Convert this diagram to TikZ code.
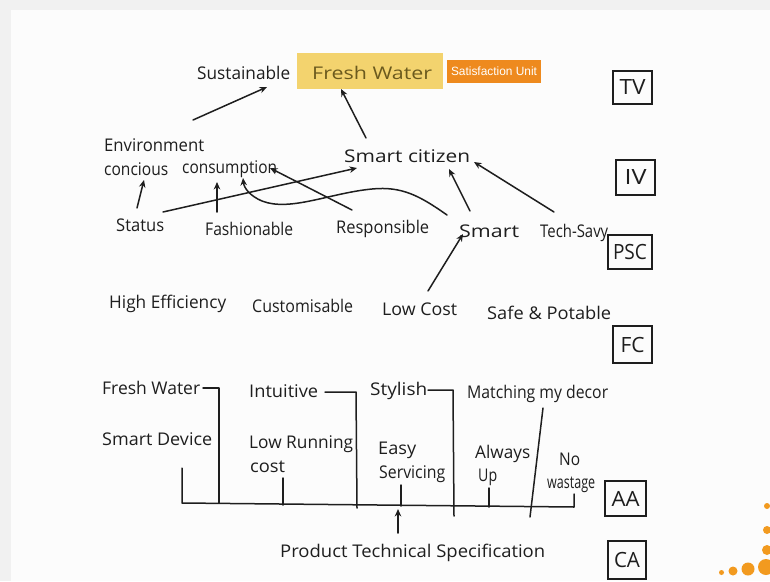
\documentclass[tikz,border=0pt]{standalone}
\usepackage{fontspec}
\setmainfont{Open Sans}
\newfontfamily\labelfont{Liberation Sans}
\usetikzlibrary{arrows.meta,calc}
\definecolor{ink}{HTML}{1E1E1E}
\definecolor{bggray}{HTML}{F1F1F1}
\definecolor{board}{HTML}{FCFCFC}
\definecolor{hilite}{HTML}{F3D36E}
\definecolor{olive}{HTML}{6B5A1E}
\definecolor{orangeunit}{HTML}{EE8A1E}
\definecolor{dotorange}{HTML}{F29A1F}
\newcommand{\hw}[2]{\resizebox{#1pt}{\height}{#2}}
\begin{document}
\begin{tikzpicture}[x=1pt,y=-1pt,
  hand/.style={inner sep=0pt,anchor=west,text=ink,font=\fontsize{17.5}{17.5}\selectfont},
  conn/.style={draw=ink,line width=1.5pt,line cap=round,line join=round},
  arr/.style={conn,-{Stealth[length=7.5pt,width=6.5pt]}},
  lvl/.style={draw=ink,line width=1.5pt,inner sep=0pt,text=ink,font=\fontsize{21}{21}\selectfont}]
\useasboundingbox (0,0) rectangle (770,581);
\fill[bggray] (0,0) rectangle (770,581);
\fill[board] (11,10) rectangle (770,581);

% highlight boxes
\node[fill=hilite,minimum width=146pt,minimum height=36pt,inner sep=0pt] (fw) at (370,71) {};
\node[hand] (fwt) at (312,73) {\color{olive}\hw{120}{Fresh Water}};
\node[fill=orangeunit,minimum width=94pt,minimum height=23pt,inner sep=0pt,text=white,font=\labelfont\fontsize{12}{12}\selectfont] (su) at (494,71) {\hw{86}{Satisfaction Unit}};

% level boxes
\node[lvl,minimum width=39pt,minimum height=33pt] (tv) at (632.5,87.5) {\hw{26}{TV}};
\node[lvl,minimum width=39pt,minimum height=35pt] (iv) at (635.5,177.5) {\hw{22}{IV}};
\node[lvl,minimum width=44pt,minimum height=34pt] (psc) at (630,252) {\hw{34}{PSC}};
\node[lvl,minimum width=39pt,minimum height=37pt] (fc) at (632.5,344.5) {\hw{24}{FC}};
\node[lvl,minimum width=41pt,minimum height=35pt] (aa) at (625.5,498.5) {\hw{28}{AA}};
\node[lvl,minimum width=38pt,minimum height=38pt] (ca) at (627,560) {\hw{26}{CA}};

% TV level
\node[hand] (sus) at (197,73) {\hw{93}{Sustainable}};

% IV level
\node[hand] (env) at (104,145) {\hw{100}{Environment}};
\node[hand] (conc) at (104,169) {\hw{64}{concious}};
\node[hand] (cons) at (182,169) {\hw{95}{consumption}};
\node[hand] (sc) at (344,156) {\hw{126}{Smart citizen}};

% PSC level
\node[hand] (status) at (116,225) {\hw{48}{Status}};
\node[hand] (fash) at (205,229) {\hw{88}{Fashionable}};
\node[hand] (resp) at (336,229) {\hw{93}{Responsible}};
\node[hand] (smart) at (459,231) {\hw{60}{Smart}};
\node[hand] (tech) at (540,233) {\hw{68}{Tech-Savy}};

% FC level
\node[hand] (hieff) at (109,304) {\hw{117}{High Efficiency}};
\node[hand] (cust) at (252,306) {\hw{101}{Customisable}};
\node[hand] (lowc) at (382,309) {\hw{75}{Low Cost}};
\node[hand] (safe) at (487,313) {\hw{124}{Safe \& Potable}};

% AA level
\node[hand] (fwa) at (102,388) {\hw{98}{Fresh Water}};
\node[hand] (intu) at (249,391) {\hw{69}{Intuitive}};
\node[hand] (styl) at (370,391) {\hw{57}{Stylish}};
\node[hand] (match) at (467,394) {\hw{141}{Matching my decor}};
\node[hand] (sdev) at (102,439) {\hw{110}{Smart Device}};
\node[hand] (lowr) at (249,444) {\hw{104}{Low Running}};
\node[hand] (lcost) at (250,467) {\hw{35}{cost}};
\node[hand] (easy) at (378,450) {\hw{38}{Easy}};
\node[hand] (serv) at (379,474) {\hw{66}{Servicing}};
\node[hand] (alw) at (475,454) {\hw{55}{Always}};
\node[hand] (up) at (478,477) {\hw{19}{Up}};
\node[hand] (no) at (559,459) {\hw{21}{No}};
\node[hand] (wast) at (547,485) {\hw{48}{wastage}};

% CA level
\node[hand] (pts) at (280,553) {\hw{265}{Product Technical Specification}};

% arrow end points
\coordinate (susIn) at (267,87);
\coordinate (fwIn) at (341,89);
\coordinate (concIn) at (144,180);
\coordinate (consInA) at (217,182);
\coordinate (consInB) at (270,168);
\coordinate (consInC) at (243,178);
\coordinate (scInA) at (357,168);
\coordinate (scInB) at (449,169);
\coordinate (scInC) at (474,162);
\coordinate (smartIn) at (463,234);
\coordinate (ptsOut) at (398,533);
\coordinate (busIn) at (398,509);

% arrows
\draw[arr] (193,120) -- (susIn);
\draw[arr] (366,138) -- (fwIn);
\draw[arr] (137,208) -- (concIn);
\draw[arr] (217,212) -- (consInA);
\draw[arr] (163,212) -- (scInA);
\draw[arr] (352,210) -- (consInB);
\draw[arr] (447,215) .. controls (420,196) and (402,186) .. (372,189)
  .. controls (330,193) and (290,212) .. (262,201)
  .. controls (250,196) and (244,188) .. (consInC);
\draw[arr] (470,211) -- (scInB);
\draw[arr] (554,212) -- (scInC);
\draw[arr] (428,291) -- (smartIn);

% AA bracket lines
\draw[conn] (203,388) -- (219,388) -- (219,503);
\draw[conn] (325,392) -- (356,392) -- (357,508);
\draw[conn] (428,390) -- (453,390) -- (454,516);
\draw[conn] (543,408) -- (530,517);
\draw[conn] (182,468) -- (182,503) -- (574,507) -- (574,494);
\draw[conn] (283,478) -- (283,505);
\draw[conn] (401,485) -- (401,506);
\draw[conn] (489,488) -- (489,507);
\draw[arr] (ptsOut) -- (busIn);

% orange dots (logo corner)
\fill[dotorange] (721.5,572.5) circle (2.5pt);
\fill[dotorange] (733,571) circle (4.5pt);
\fill[dotorange] (748,569) circle (6.5pt);
\fill[dotorange] (766,567) circle (8pt);
\fill[dotorange] (767,550) circle (5pt);
\fill[dotorange] (767,530) circle (4pt);
\fill[dotorange] (767,506) circle (3pt);
\end{tikzpicture}
\end{document}
